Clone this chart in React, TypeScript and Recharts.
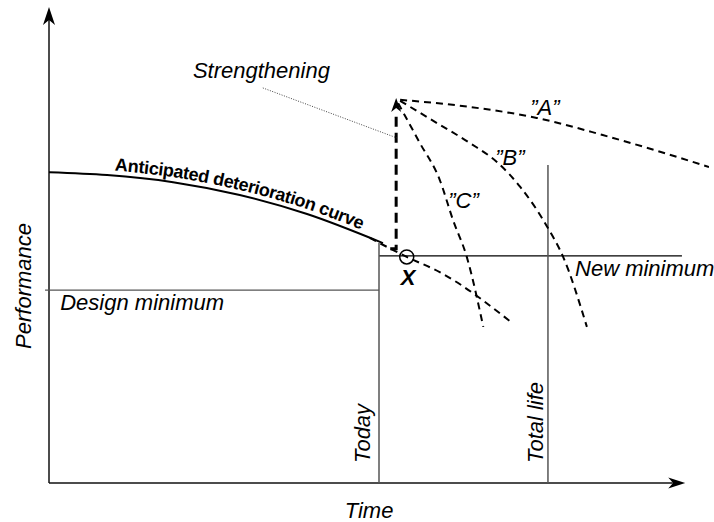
import { LineChart, Line, XAxis, YAxis, ReferenceLine, ReferenceDot } from "recharts"

// time (t) runs 0..100 along the axis, performance (p) 0..100 up the axis
const anticipated = [
    { t: 0, p: 65.3 },
    { t: 8.8, p: 64.7 },
    { t: 18.8, p: 63.2 },
    { t: 28.9, p: 60.5 },
    { t: 39.1, p: 56.5 },
    { t: 50.6, p: 50.4 },
]
const continued = [
    { t: 48.6, p: 51.5 },
    { t: 54.2, p: 47.5 },
    { t: 59.2, p: 44.3 },
    { t: 70.2, p: 33.6 },
]
const optionA = [
    { t: 53.2, p: 80.5 },
    { t: 63.8, p: 79.0 },
    { t: 73.9, p: 76.7 },
    { t: 83.9, p: 73.1 },
    { t: 100, p: 66.4 },
]
const optionB = [
    { t: 53.2, p: 80.3 },
    { t: 58.8, p: 75.6 },
    { t: 63.8, p: 71.4 },
    { t: 67.9, p: 67.4 },
    { t: 71.4, p: 62.2 },
    { t: 75.5, p: 53.8 },
    { t: 77.9, p: 47.5 },
    { t: 81.5, p: 32.8 },
]
const optionC = [
    { t: 52.9, p: 79.8 },
    { t: 56.2, p: 71.4 },
    { t: 59.2, p: 63.7 },
    { t: 61.2, p: 55.3 },
    { t: 63.3, p: 47.5 },
    { t: 65.8, p: 32.8 },
]
const strengthening = [
    { t: 51.7, p: 49.2 },
    { t: 52.6, p: 49.2 },
    { t: 52.6, p: 77.9 },
]
const pointer = [
    { t: 32.4, p: 83.0 },
    { t: 52.7, p: 72.5 },
]
const strengthTip = { t: 52.6, p: 80.9 }
const pointX = { t: 54.2, p: 47.5 }

const today = 50
const todayTop = 50.4
const totalLife = 75.6
const totalLifeTop = 66.8
const designMin = 40.5
const newMin = 47.7
const newMinEnd = 95.9
const axisEnd = { t: 96.4, p: 100 }

const FONT = '"Liberation Sans", Arial, sans-serif'

function smoothPath(pts: { x: number; y: number }[]) {
    let d = `M${pts[0].x},${pts[0].y}`
    for (let i = 0; i < pts.length - 1; i++) {
        const p0 = pts[i - 1] || pts[i]
        const p1 = pts[i]
        const p2 = pts[i + 1]
        const p3 = pts[i + 2] || p2
        const c1x = p1.x + (p2.x - p0.x) / 6
        const c1y = p1.y + (p2.y - p0.y) / 6
        const c2x = p2.x - (p3.x - p1.x) / 6
        const c2y = p2.y - (p3.y - p1.y) / 6
        d += ` C${c1x},${c1y} ${c2x},${c2y} ${p2.x},${p2.y}`
    }
    return d
}

// draws the curve caption along the line, using the points recharts has already scaled
function curveCaption(props: any) {
    const { index, points } = props
    if (index !== 0 || !points) return <g key={`cap-${index}`} />
    const pts = points.map((pt: any) => ({ x: pt.x, y: pt.y - 5 }))
    return (
        <g key="cap">
            <path id="anticipatedPath" d={smoothPath(pts)} fill="none" stroke="none" />
            <text fontFamily={FONT} fontWeight="bold" fontSize={18} letterSpacing={-0.4} fill="#000">
                <textPath href="#anticipatedPath" startOffset={66}>
                    Anticipated deterioration curve
                </textPath>
            </text>
        </g>
    )
}

function note(key: string, text: string, x: number, y: number, opts: any = {}) {
    const { rotate = false, anchor = "start", bold = false, italic = true, size = 22 } = opts
    return (
        <ReferenceDot
            key={key}
            x={x}
            y={y}
            ifOverflow="visible"
            shape={(p: any) => (
                <text
                    x={p.cx}
                    y={p.cy}
                    transform={rotate ? `rotate(-90 ${p.cx} ${p.cy})` : undefined}
                    textAnchor={anchor}
                    fontFamily={FONT}
                    fontSize={size}
                    fontStyle={italic ? "italic" : "normal"}
                    fontWeight={bold ? "bold" : "normal"}
                    fill="#000"
                >
                    {text}
                </text>
            )}
        />
    )
}

const upHead = (len: number, hw: number) => (p: any) => (
    <path
        d={`M${p.cx},${p.cy} L${p.cx + hw},${p.cy + len} L${p.cx},${p.cy + len * 0.72} L${p.cx - hw},${p.cy + len} Z`}
        fill="#000"
    />
)
const rightHead = (len: number, hw: number) => (p: any) => (
    <path
        d={`M${p.cx},${p.cy} L${p.cx - len},${p.cy - hw} L${p.cx - len * 0.72},${p.cy} L${p.cx - len},${p.cy + hw} Z`}
        fill="#000"
    />
)

export default function App() {
    return (
        <div style={{ position: "absolute", left: 0, top: 0, width: 714, height: 522, background: "#fff" }}>
            <LineChart width={714} height={522} margin={{ top: 7, right: 5, bottom: 39, left: 49 }}>
                <XAxis type="number" dataKey="t" domain={[0, 100]} allowDataOverflow hide />
                <YAxis type="number" dataKey="p" domain={[0, 100]} allowDataOverflow hide />

                {/* axes with arrowheads */}
                <ReferenceLine segment={[{ x: 0, y: 0 }, { x: 0, y: 97.5 }]} stroke="#111" strokeWidth={1.5} ifOverflow="visible" />
                <ReferenceLine segment={[{ x: 0, y: 0 }, { x: 94.5, y: 0 }]} stroke="#111" strokeWidth={1.5} ifOverflow="visible" />
                <ReferenceDot x={0} y={axisEnd.p} ifOverflow="visible" shape={upHead(18, 6)} />
                <ReferenceDot x={axisEnd.t} y={0} ifOverflow="visible" shape={rightHead(17, 5.5)} />

                {/* limits and time markers */}
                <ReferenceLine segment={[{ x: -0.6, y: designMin }, { x: today, y: designMin }]} stroke="#555" strokeWidth={1.2} ifOverflow="visible" />
                <ReferenceLine segment={[{ x: today, y: newMin }, { x: newMinEnd, y: newMin }]} stroke="#000" strokeWidth={1.2} ifOverflow="visible" />
                <ReferenceLine segment={[{ x: today, y: 0 }, { x: today, y: todayTop }]} stroke="#555" strokeWidth={1.5} ifOverflow="visible" />
                <ReferenceLine segment={[{ x: totalLife, y: 0 }, { x: totalLife, y: totalLifeTop }]} stroke="#555" strokeWidth={1.5} ifOverflow="visible" />

                <Line data={anticipated} dataKey="p" type="monotone" stroke="#000" strokeWidth={2} dot={curveCaption} activeDot={false} isAnimationActive={false} />
                <Line data={continued} dataKey="p" type="monotone" stroke="#000" strokeWidth={2} strokeDasharray="7 5" dot={false} activeDot={false} isAnimationActive={false} />
                <Line data={optionA} dataKey="p" type="monotone" stroke="#000" strokeWidth={2} strokeDasharray="7 5" dot={false} activeDot={false} isAnimationActive={false} />
                <Line data={optionB} dataKey="p" type="monotone" stroke="#000" strokeWidth={2} strokeDasharray="7 5" dot={false} activeDot={false} isAnimationActive={false} />
                <Line data={optionC} dataKey="p" type="monotone" stroke="#000" strokeWidth={2} strokeDasharray="7 5" dot={false} activeDot={false} isAnimationActive={false} />
                <Line data={strengthening} dataKey="p" type="linear" stroke="#000" strokeWidth={3} strokeDasharray="10 6" dot={false} activeDot={false} isAnimationActive={false} />
                <Line data={pointer} dataKey="p" type="linear" stroke="#444" strokeWidth={1} strokeDasharray="1 1.5" dot={false} activeDot={false} isAnimationActive={false} />
                <ReferenceDot x={strengthTip.t} y={strengthTip.p} ifOverflow="visible" shape={upHead(14, 5)} />
                <ReferenceDot x={pointX.t} y={pointX.p} r={7} fill="none" stroke="#000" strokeWidth={1.5} ifOverflow="visible" />

                {note("strength", "Strengthening", 21.8, 85.1)}
                {note("a", "\u201dA\u201d", 72.9, 77.3)}
                {note("b", "\u201dB\u201d", 67.6, 66.8)}
                {note("c", "\u201dC\u201d", 60.5, 57.8)}
                {note("x", "X", 54.4, 41.6, { anchor: "middle", bold: true })}
                {note("design", "Design minimum", 1.7, 36.3)}
                {note("newmin", "New minimum", 79.7, 43.5)}
                {note("today", "Today", 48.6, 4.2, { rotate: true })}
                {note("life", "Total life", 74.8, 4.2, { rotate: true })}
                {note("perf", "Performance", -2.7, 41.4, { rotate: true, anchor: "middle" })}
                {note("time", "Time", 48.5, -7.4, { anchor: "middle" })}
            </LineChart>
        </div>
    )
}
